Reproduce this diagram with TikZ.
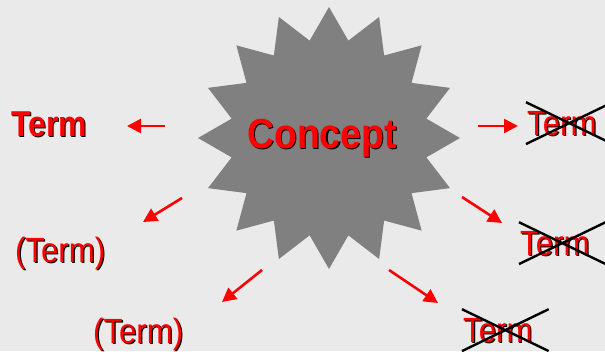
\documentclass[tikz,border=0pt]{standalone}
\usepackage{fontspec}
\setmainfont{Liberation Sans}
\usepackage{xcolor}
\usetikzlibrary{shapes.geometric, shapes.misc, arrows.meta}
\definecolor{slidebg}{HTML}{EAEAEA}
\definecolor{stargray}{HTML}{808080}
\newcommand{\shtxt}[1]{\scalebox{0.89}[1]{\rlap{\smash{\raisebox{-1.3pt}{\kern1.4pt\textcolor{black}{#1}}}}\textcolor{red}{#1}}}

\begin{document}
\begin{tikzpicture}[x=1pt, y=-1pt,
    concept/.style={star, star points=16, star point ratio=1.32, minimum size=262pt, inner sep=0pt, fill=stargray},
    term/.style={inner sep=0pt, anchor=base west, font=\fontsize{35}{40}\selectfont},
    xterm/.style={term, cross out, draw=black, line width=2.4pt, inner ysep=7.5pt},
    arr/.style={draw=red, line width=2.6pt, -{Triangle[length=14pt,width=14pt]}}
  ]
    \useasboundingbox (0,0) rectangle (605,351);
    \fill[slidebg] (0,0) rectangle (605,351);
    \clip (0,0) rectangle (605,351);

    \node[concept] (concept) at (329,138) {};
    \node[term, font=\fontsize{42}{48}\selectfont\bfseries] (conceptlbl) at (247,148) {\shtxt{Concept}};

    \node[term, font=\fontsize{36}{42}\selectfont\bfseries] (term1) at (11,136) {\shtxt{Term}};
    \node[term] (term2) at (15,262) {\shtxt{(Term)}};
    \node[term] (term3) at (93,343) {\shtxt{(Term)}};

    \node[xterm] (xterm1) at (526,135) {\shtxt{Term}\kern15pt};
    \node[xterm] (xterm2) at (519,255) {\shtxt{Term}\kern15pt};
    \node[xterm] (xterm3) at (462,342) {\shtxt{Term}\kern15pt};

    % arrow ends
    \coordinate (a1s) at (165,126); \coordinate (a1e) at (127,126);
    \coordinate (a2s) at (182,198); \coordinate (a2e) at (143,222);
    \coordinate (a3s) at (262,270); \coordinate (a3e) at (222,302);
    \coordinate (a4s) at (478,126); \coordinate (a4e) at (518,126);
    \coordinate (a5s) at (462,197); \coordinate (a5e) at (502,223);
    \coordinate (a6s) at (389,270); \coordinate (a6e) at (438,303);

    \draw[arr] (a1s) -- (a1e);
    \draw[arr] (a2s) -- (a2e);
    \draw[arr] (a3s) -- (a3e);
    \draw[arr] (a4s) -- (a4e);
    \draw[arr] (a5s) -- (a5e);
    \draw[arr] (a6s) -- (a6e);
  \end{tikzpicture}
\end{document}
